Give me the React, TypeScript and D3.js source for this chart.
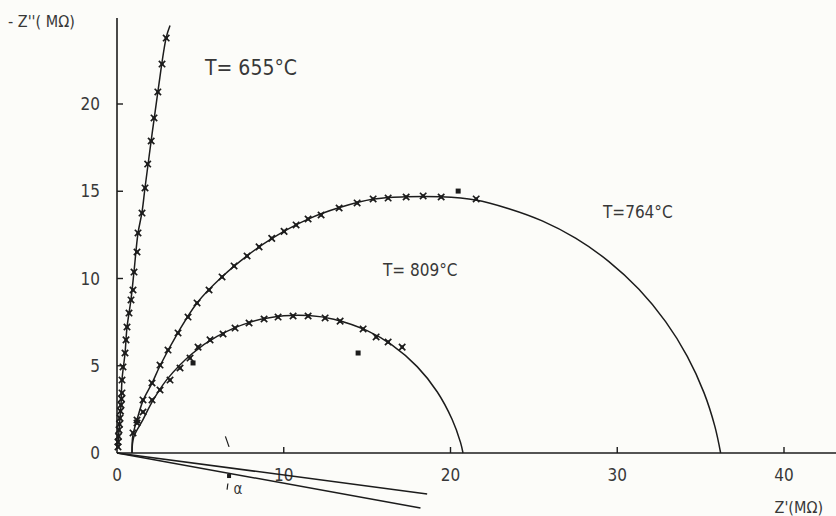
import React from 'react';
import * as d3 from 'd3';

// Nyquist plot, -Z'' vs Z' (MOhm), three temperatures
const xTicks = [0, 10, 20, 30, 40];
const yTicks = [0, 5, 10, 15, 20];

// T = 655 C : fitted curve and measured points
const fit655Re = [0.05, 0.12, 0.24, 0.3, 0.48, 0.6, 0.84, 1.02, 1.26, 1.5, 1.68, 2.05, 2.45, 2.95, 3.18];
const fit655Im = [0.3, 1.3, 2.75, 4.2, 5.7, 7.2, 8.8, 10.4, 12.6, 13.8, 15.2, 17.9, 20.7, 23.8, 24.5];
const pts655Re = [0.06, 0.06, 0.09, 0.12, 0.15, 0.18, 0.21, 0.24, 0.27, 0.3, 0.3, 0.36, 0.48, 0.54, 0.6, 0.72, 0.84, 0.96, 1.02, 1.2, 1.26, 1.5, 1.68, 1.84, 2.05, 2.22, 2.45, 2.7, 2.95];
const pts655Im = [0.35, 0.63, 0.95, 1.32, 1.65, 2.0, 2.4, 2.75, 3.1, 3.44, 4.18, 4.93, 5.73, 6.48, 7.22, 8.02, 8.77, 9.34, 10.37, 11.52, 12.61, 13.75, 15.19, 16.56, 17.88, 19.2, 20.69, 22.29, 23.78];

// T = 764 C
const fit764Re = [0.9, 0.95, 1.2, 1.56, 2.1, 2.58, 3.66, 4.8, 6.3, 7.8, 9.3, 11.46, 13.3, 15.4, 17.3, 19.4, 21.5, 23.5, 25.5, 27.5, 29.5, 31.3, 32.9, 34.2, 35.2, 35.85, 36.2];
const fit764Im = [0, 1.0, 1.9, 3.0, 4.0, 5.0, 6.9, 8.6, 10.1, 11.3, 12.3, 13.4, 14.05, 14.55, 14.68, 14.68, 14.5, 14.0, 13.3, 12.31, 10.97, 9.38, 7.53, 5.54, 3.46, 1.54, 0];
const pts764Re = [0.96, 1.2, 1.56, 2.1, 2.58, 3.06, 3.66, 4.26, 4.8, 5.52, 6.3, 7.02, 7.8, 8.52, 9.28, 10.02, 10.74, 11.46, 12.24, 13.32, 14.4, 15.36, 16.26, 17.34, 18.36, 19.44, 21.54];
const pts764Im = [1.15, 1.89, 3.04, 4.01, 5.04, 5.9, 6.88, 7.79, 8.6, 9.34, 10.09, 10.72, 11.29, 11.81, 12.3, 12.7, 13.07, 13.41, 13.64, 14.04, 14.33, 14.56, 14.61, 14.67, 14.73, 14.67, 14.56];
const out764Re = [20.46];
const out764Im = [15.01];

// T = 809 C
const fit809Re = [0.9, 1.0, 1.55, 2.15, 3.0, 4.5, 6.0, 8.0, 10.0, 11.5, 13.0, 15.0, 16.5, 18.0, 19.2, 20.1, 20.6, 20.75];
const fit809Im = [0, 0.9, 1.9, 3.0, 4.22, 5.69, 6.68, 7.5, 7.86, 7.88, 7.67, 7.01, 6.18, 4.95, 3.51, 1.92, 0.61, 0];
const pts809Re = [1.2, 1.56, 2.1, 2.58, 3.18, 3.78, 4.38, 4.86, 5.58, 6.36, 7.08, 7.92, 8.82, 9.66, 10.56, 11.46, 12.48, 13.38, 14.76, 15.54, 16.26, 17.1];
const pts809Im = [1.72, 2.35, 3.04, 3.61, 4.18, 4.87, 5.44, 6.07, 6.48, 6.82, 7.16, 7.45, 7.68, 7.79, 7.85, 7.85, 7.74, 7.56, 7.11, 6.65, 6.36, 6.07];
const out809Re = [4.56, 14.46];
const out809Im = [5.16, 5.73];

// depression angle lines below the real axis
const angleUpperRe = [0, 18.6];
const angleUpperIm = [0, -2.35];
const angleLowerRe = [0, 18.2];
const angleLowerIm = [0, -3.15];

const ink = '#1c1c1c';
const font = '"DejaVu Sans Condensed", "DejaVu Sans", sans-serif';

function zip(re: number[], im: number[]): [number, number][] {
  return re.map((r, i) => [r, im[i]]);
}

function Marker({ x, y }: { x: number; y: number }) {
  return (
    <g transform={`translate(${x},${y})`}>
      <path d="M-3.2,-3.2L3.2,3.2M-3.2,3.2L3.2,-3.2" stroke={ink} strokeWidth={1.7} />
      <circle r={1.8} fill={ink} />
    </g>
  );
}

export default function App() {
  const width = 836;
  const height = 516;
  const x = d3.scaleLinear().domain([0, 40]).range([117, 784]);
  const y = d3.scaleLinear().domain([0, 20]).range([453, 104]);

  const line = d3
    .line<[number, number]>()
    .x((d) => x(d[0]))
    .y((d) => y(d[1]))
    .curve(d3.curveCatmullRom.alpha(0.5));
  const straight = d3
    .line<[number, number]>()
    .x((d) => x(d[0]))
    .y((d) => y(d[1]));

  const fits = [zip(fit655Re, fit655Im), zip(fit764Re, fit764Im), zip(fit809Re, fit809Im)];
  const points = [...zip(pts655Re, pts655Im), ...zip(pts764Re, pts764Im), ...zip(pts809Re, pts809Im)];
  const outliers = [...zip(out764Re, out764Im), ...zip(out809Re, out809Im)];

  return (
    <svg
      width={width}
      height={height}
      style={{ position: 'absolute', left: 0, top: 0, background: '#fcfcf9' }}
      fontFamily={font}
    >
      {/* axes */}
      <line x1={x(0)} x2={x(0)} y1={18} y2={y(0)} stroke={ink} strokeWidth={1.6} />
      <line x1={x(0)} x2={width} y1={y(0)} y2={y(0)} stroke={ink} strokeWidth={1.6} />
      {yTicks.filter((t) => t > 0).map((t) => (
        <line key={'yt' + t} x1={x(0)} x2={x(0) + 6} y1={y(t)} y2={y(t)} stroke={ink} strokeWidth={1.4} />
      ))}
      {xTicks.filter((t) => t > 0).map((t) => (
        <line key={'xt' + t} x1={x(t)} x2={x(t)} y1={y(0)} y2={y(0) - 6} stroke={ink} strokeWidth={1.4} />
      ))}
      {yTicks.map((t) => (
        <text key={'yl' + t} x={100} y={y(t)} dy="0.36em" textAnchor="end" fontSize={17} fill="#383838">
          {t}
        </text>
      ))}
      {xTicks.map((t) => (
        <text key={'xl' + t} x={x(t)} y={y(0) + 28} textAnchor="middle" fontSize={17} fill="#383838">
          {t}
        </text>
      ))}
      <text x={8} y={27} fontSize={16} fill="#383838">- Z''( MΩ)</text>
      <text x={823} y={513} textAnchor="end" fontSize={16} fill="#383838">Z'(MΩ)</text>

      {/* angle lines */}
      <path d={straight(zip(angleUpperRe, angleUpperIm)) || ''} fill="none" stroke={ink} strokeWidth={1.5} />
      <path d={straight(zip(angleLowerRe, angleLowerIm)) || ''} fill="none" stroke={ink} strokeWidth={1.5} />
      <line x1={x(6.5)} y1={y(0.95)} x2={x(6.72)} y2={y(0.35)} stroke={ink} strokeWidth={1.2} />
      <rect x={x(6.72) - 2} y={y(-1.32) - 2} width={4} height={4} fill={ink} />
      <line x1={x(6.65)} y1={y(-1.75)} x2={x(6.6)} y2={y(-2.1)} stroke={ink} strokeWidth={1.2} />
      <text x={x(7.25)} y={y(-2.35)} textAnchor="middle" fontSize={15} fill="#383838">α</text>

      {/* fitted curves */}
      {fits.map((f, i) => (
        <path key={'fit' + i} d={line(f) || ''} fill="none" stroke={ink} strokeWidth={1.5} />
      ))}
      {points.map((p, i) => (
        <Marker key={'m' + i} x={x(p[0])} y={y(p[1])} />
      ))}
      {outliers.map((p, i) => (
        <rect key={'o' + i} x={x(p[0]) - 2.5} y={y(p[1]) - 2.5} width={5} height={5} fill={ink} />
      ))}

      {/* temperature labels */}
      <text x={205} y={75} fontSize={21} fill="#383838">T= 655°C</text>
      <text x={603} y={218} fontSize={17} fill="#383838">T=764°C</text>
      <text x={383} y={276} fontSize={17} fill="#383838">T= 809°C</text>
    </svg>
  );
}
